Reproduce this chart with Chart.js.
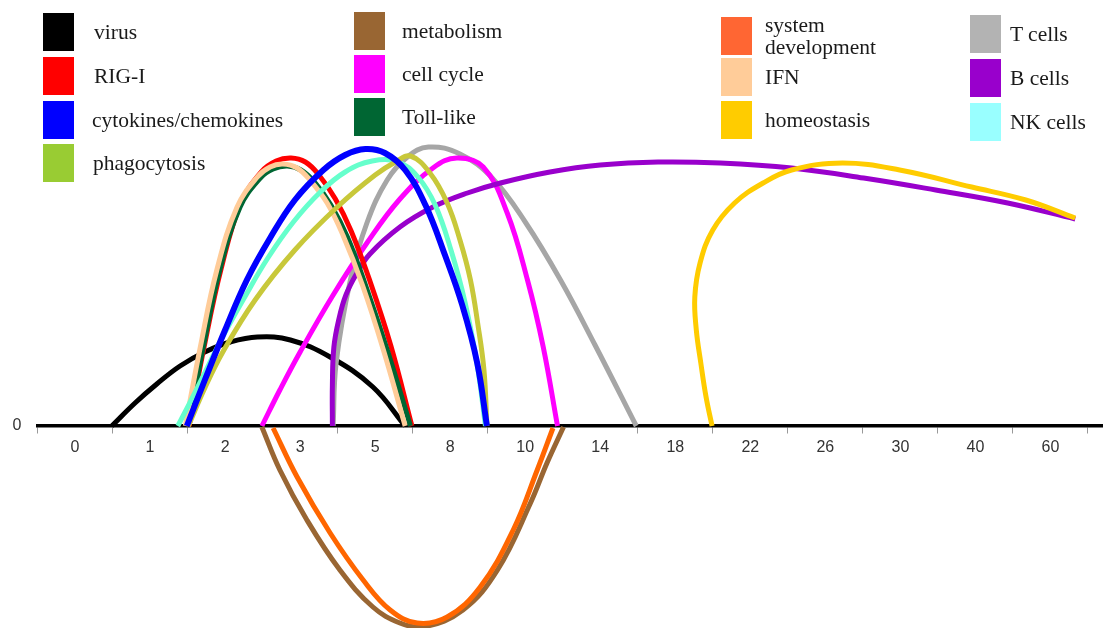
<!DOCTYPE html>
<html>
<head>
<meta charset="utf-8">
<script src="https://cdn.jsdelivr.net/npm/chart.js@4.4.0/dist/chart.umd.min.js"></script>
<style>
  html, body { margin: 0; padding: 0; background: #fff; }
  #wrap { position: relative; width: 1103px; height: 628px; overflow: hidden; }
  #grafico { position: absolute; left: 0; top: 0; }
  .leg { position: absolute; display: flex; align-items: center; font-family: "Liberation Serif", "Times New Roman", serif; font-size: 21.5px; color: #1a1a1a; line-height: 22px; }
  .leg .box { width: 31px; height: 38px; flex: none; }
  .leg .txt { max-width: 118px; }
</style>
</head>
<body>
<div id="wrap">
  <canvas id="grafico" width="1103" height="628"></canvas>
  <div id="legenda"></div>
</div>
<script>
// Eixo x: dias (posições de categoria)
const categories = ['0', '1', '2', '3', '5', '8', '10', '14', '18', '22', '26', '30', '40', '60'];

const seriesNames = ['virus', 'RIG-I', 'cytokines/chemokines', 'phagocytosis', 'metabolism', 'cell cycle',
  'Toll-like', 'system development', 'IFN', 'homeostasis', 'T cells', 'B cells', 'NK cells'];

// Curvas: [posição no eixo x, intensidade]
const virus = [[0.49, 0], [0.80, 23], [1.09, 42], [1.40, 60], [1.73, 74], [2.07, 84], [2.43, 89], [2.87, 86], [3.40, 69], [3.97, 39], [4.40, 0]];
const rigI = [[1.52, 0], [1.72, 79], [1.95, 158], [2.21, 223], [2.48, 254], [2.68, 265], [2.88, 268], [3.07, 264], [3.24, 252], [3.47, 227], [3.68, 195], [3.93, 145], [4.21, 80], [4.49, 0]];
const cytokines = [[1.49, 0], [1.73, 46], [2.00, 96], [2.29, 146], [2.60, 188], [2.93, 226], [3.31, 256], [3.60, 271], [3.87, 277], [4.13, 273], [4.40, 256], [4.67, 221], [4.93, 171], [5.16, 121], [5.36, 63], [5.49, 0]];
const phagocytosis = [[1.51, 0], [1.73, 38], [1.97, 74], [2.40, 126], [2.93, 176], [3.51, 220], [4.00, 251], [4.27, 264], [4.47, 270], [4.73, 253], [4.96, 223], [5.13, 186], [5.27, 146], [5.37, 101], [5.45, 56], [5.49, 0]];
const metabolism = [[2.49, -1], [2.73, -44], [3.09, -94], [3.53, -144], [3.97, -181], [4.33, -197], [4.64, -201], [5.17, -184], [5.63, -144], [6.07, -77], [6.29, -37], [6.51, -1]];
const cellCycle = [[2.49, 0], [2.73, 36], [3.00, 74], [3.44, 131], [3.89, 183], [4.33, 227], [4.77, 258], [5.09, 268], [5.44, 259], [5.76, 213], [6.03, 146], [6.24, 79], [6.43, 0]];
const tollLike = [[1.51, 0], [1.71, 79], [1.93, 156], [2.20, 219], [2.47, 248], [2.64, 257], [2.83, 260], [3.01, 256], [3.19, 244], [3.41, 221], [3.63, 189], [3.88, 139], [4.17, 74], [4.47, 0]];
const systemDev = [[2.64, -2], [2.96, -51], [3.40, -107], [3.84, -154], [4.20, -184], [4.56, -197], [4.96, -191], [5.40, -161], [5.84, -104], [6.16, -44], [6.37, -2]];
const ifn = [[1.47, 0], [1.67, 79], [1.89, 156], [2.16, 219], [2.43, 249], [2.60, 259], [2.77, 262], [2.96, 258], [3.13, 246], [3.36, 223], [3.57, 191], [3.83, 141], [4.11, 76], [4.40, 0]];
const homeostasis = [[8.49, 0], [8.41, 29], [8.34, 63], [8.28, 96], [8.26, 129], [8.33, 163], [8.50, 196], [8.79, 223], [9.17, 243], [9.55, 256], [10.23, 263], [10.99, 256], [11.95, 239], [12.67, 226], [13.33, 208]];
const tCells = [[3.44, 0], [3.48, 63], [3.67, 146], [3.89, 203], [4.16, 246], [4.43, 269], [4.71, 279], [5.13, 272], [5.56, 248], [6.00, 204], [6.47, 146], [6.93, 81], [7.48, 0]];
const bCells = [[3.43, 0], [3.43, 41], [3.45, 79], [3.52, 108], [3.61, 131], [3.75, 152], [3.93, 172], [4.33, 199], [4.77, 219], [5.23, 233], [5.67, 243], [6.33, 254], [7.00, 261], [7.77, 264], [8.60, 263], [9.55, 258], [10.51, 248], [11.47, 236], [12.43, 223], [13.33, 207]];
const nkCells = [[1.37, 0], [1.67, 44], [1.96, 88], [2.27, 130], [2.57, 168], [2.91, 204], [3.27, 234], [3.60, 254], [3.96, 265], [4.31, 264], [4.57, 249], [4.80, 221], [5.01, 176], [5.20, 123], [5.36, 61], [5.47, 0]];

const seriesValues = [virus, rigI, cytokines, phagocytosis, metabolism, cellCycle, tollLike, systemDev, ifn, homeostasis, tCells, bCells, nkCells];

// Cores
const lineColors = ['#000000', '#ff0000', '#0000ff', '#c8c83a', '#996633', '#ff00ff', '#006633', '#ff6600', '#ffcc99', '#ffcc00', '#a6a6a6', '#9900cc', '#66ffcc'];
const boxColors = ['#000000', '#ff0000', '#0000ff', '#99cc33', '#996633', '#ff00ff', '#006633', '#ff6633', '#ffcc99', '#ffcc00', '#b3b3b3', '#9900cc', '#99ffff'];

// Ordem de desenho (de baixo para cima)
const camadas = ['virus', 'T cells', 'cell cycle', 'B cells', 'RIG-I', 'Toll-like', 'IFN', 'NK cells',
  'phagocytosis', 'cytokines/chemokines', 'metabolism', 'system development', 'homeostasis'];

// Legenda em 4 colunas
const legendaPos = [
  [43, 13, 20], [43, 57, 20], [43, 101, 18], [43, 144, 19],
  [354, 12, 17], [354, 55, 17], [354, 98, 17],
  [721, 14, 13], [721, 58, 13], [721, 101, 13],
  [970, 15, 9], [970, 59, 9], [970, 103, 9]
];

const legenda = document.getElementById('legenda');
seriesNames.forEach((nome, i) => {
  const [x, y, gap] = legendaPos[i];
  const item = document.createElement('div');
  item.className = 'leg';
  item.style.left = x + 'px';
  item.style.top = y + 'px';
  item.innerHTML = `<div class="box" style="background:${boxColors[i]};margin-right:${gap}px"></div><div class="txt">${nome}</div>`;
  legenda.appendChild(item);
});

const ctx = document.getElementById('grafico').getContext('2d');
const grafico = new Chart(ctx, {
  type: 'line',
  data: {
    datasets: seriesNames.map((nome, i) => ({
      label: nome,
      data: seriesValues[i].map(([x, y]) => ({ x, y })),
      borderColor: lineColors[i],
      borderWidth: nome === 'cytokines/chemokines' ? 6 : 5,
      pointRadius: 0,
      tension: 0.4,
      fill: false,
      order: camadas.length - camadas.indexOf(nome)
    }))
  },
  options: {
    responsive: false,
    animation: false,
    layout: { padding: 0 },
    plugins: {
      legend: { display: false },
      tooltip: { enabled: false }
    },
    scales: {
      x: {
        type: 'linear',
        min: -0.5,
        max: 13.7,
        position: { y: 0 },
        afterBuildTicks: s => { s.ticks = categories.map((_, i) => ({ value: i })); },
        ticks: {
          callback: v => categories[v],
          autoSkip: false,
          maxRotation: 0,
          padding: 6,
          color: '#333',
          font: { family: 'Liberation Sans, Arial, sans-serif', size: 16 }
        },
        grid: { drawOnChartArea: false, offset: true, tickLength: 6, color: '#999' },
        border: { color: '#000', width: 3.5 }
      },
      y: {
        type: 'linear',
        min: -202,
        max: 426,
        afterBuildTicks: s => { s.ticks = [{ value: 0 }]; },
        afterFit: s => { s.width = 37.5; s.paddingTop = 0; s.paddingBottom = 0; },
        grid: { display: false, drawTicks: false },
        border: { display: false },
        ticks: {
          padding: 16,
          color: '#333',
          font: { family: 'Liberation Sans, Arial, sans-serif', size: 16 }
        }
      }
    }
  }
});
</script>
</body>
</html>
